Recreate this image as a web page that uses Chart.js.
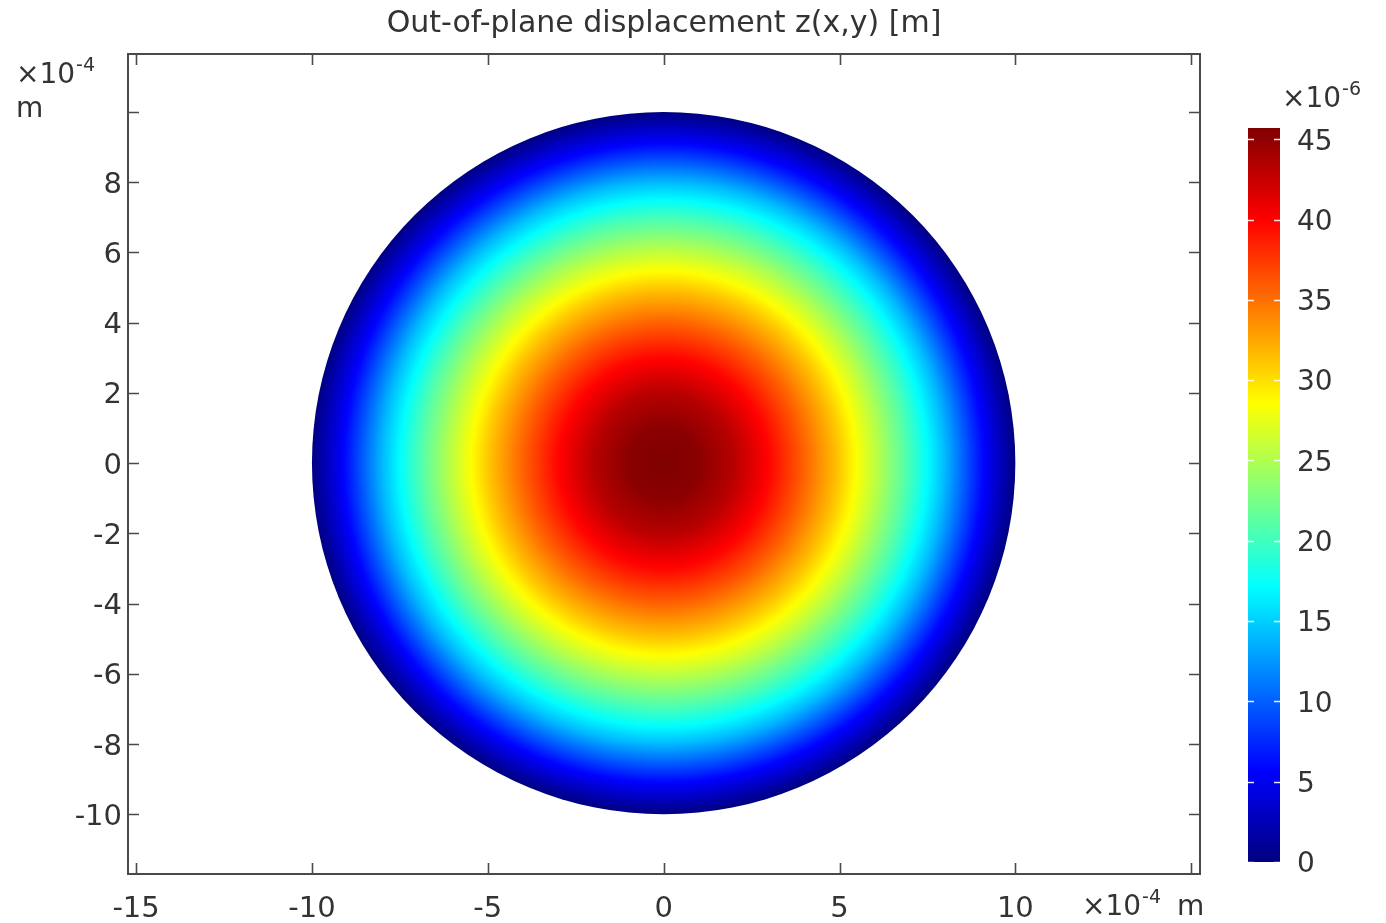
<!DOCTYPE html>
<html>
<head>
<meta charset="utf-8">
<script src="https://cdn.jsdelivr.net/npm/chart.js@4.4.1/dist/chart.umd.min.js"></script>
<style>
  html, body { margin: 0; padding: 0; background: #ffffff; }
  #wrap { position: relative; width: 1386px; height: 923px; overflow: hidden; }
  #main { position: absolute; left: 0; top: 0; }
  #cbar { position: absolute; left: 1210px; top: 0; }
</style>
</head>
<body>
<div id="wrap">
  <canvas id="main" width="1386" height="923"></canvas>
  <canvas id="cbar" width="176" height="923"></canvas>
</div>
<script>
// ---- data ----
const titleText = 'Out-of-plane displacement z(x,y) [m]';
// radial profile of the membrane: radius [x1e-4 m] -> displacement [x1e-6 m]
const radius = [0, 1, 2, 3, 4, 5, 6, 7, 8, 9, 10];
const displacement = [45.7, 45.2, 43.2, 39.8, 35.6, 31.0, 25.8, 20.2, 14.0, 6.5, 0];
const circleCenter = [0, 0];
// axis ticks and labels
const xTickValues = [-15, -10, -5, 0, 5, 10, 15];
const xTickLabels = ['-15', '-10', '-5', '0', '5', '10', ''];
const yTickValues = [-10, -8, -6, -4, -2, 0, 2, 4, 6, 8, 10];
const yTickLabels = ['-10', '-8', '-6', '-4', '-2', '0', '2', '4', '6', '8', ''];
const colorTickValues = [0, 5, 10, 15, 20, 25, 30, 35, 40, 45];
const colorTickLabels = ['0', '5', '10', '15', '20', '25', '30', '35', '40', '45'];
const axisUnitExp = '-4';
const colorUnitExp = '-6';

const FONT = "'DejaVu Sans', 'Liberation Sans', sans-serif";
const TEXT = '#333333';
const FRAME = '#4a4a4a';
const vmax = Math.max(...displacement);

function jet(t) {
  t = Math.max(0, Math.min(1, t));
  const c = v => Math.round(255 * Math.max(0, Math.min(1, v)));
  return 'rgb(' + c(1.5 - Math.abs(4 * t - 3)) + ',' + c(1.5 - Math.abs(4 * t - 2)) + ',' + c(1.5 - Math.abs(4 * t - 1)) + ')';
}

function drawUnit(ctx, x, y, exp, withM, mx) {
  ctx.save();
  ctx.fillStyle = TEXT;
  ctx.textBaseline = 'alphabetic';
  ctx.textAlign = 'left';
  ctx.font = '28px ' + FONT;
  ctx.fillText('×10', x, y);
  const w = ctx.measureText('×10').width;
  ctx.font = '19px ' + FONT;
  ctx.fillText(exp, x + w + 1, y - 12);
  if (withM) {
    ctx.font = '28px ' + FONT;
    ctx.fillText('m', mx, withM);
  }
  ctx.restore();
}

const membranePlugin = {
  id: 'membrane',
  beforeDatasetsDraw(chart) {
    const xs = chart.scales.x, ys = chart.scales.y, ctx = chart.ctx;
    const rmax = radius[radius.length - 1];
    const cx = xs.getPixelForValue(circleCenter[0]);
    const cy = ys.getPixelForValue(circleCenter[1]);
    const rx = xs.getPixelForValue(circleCenter[0] + rmax) - cx;
    const ry = cy - ys.getPixelForValue(circleCenter[1] + rmax);
    ctx.save();
    ctx.translate(cx, cy);
    ctx.scale(1, ry / rx);
    const g = ctx.createRadialGradient(0, 0, 0, 0, 0, rx);
    const sub = 12;
    for (let i = 0; i < radius.length - 1; i++) {
      for (let k = 0; k < sub; k++) {
        const f = k / sub;
        const r = radius[i] + (radius[i + 1] - radius[i]) * f;
        const v = displacement[i] + (displacement[i + 1] - displacement[i]) * f;
        g.addColorStop(r / rmax, jet(v / vmax));
      }
    }
    g.addColorStop(1, jet(displacement[displacement.length - 1] / vmax));
    ctx.fillStyle = g;
    ctx.beginPath();
    ctx.arc(0, 0, rx, 0, Math.PI * 2);
    ctx.fill();
    ctx.restore();
  },
  afterDraw(chart) {
    const ctx = chart.ctx, a = chart.chartArea;
    const xs = chart.scales.x, ys = chart.scales.y;
    ctx.save();
    ctx.strokeStyle = FRAME;
    ctx.lineWidth = 2;
    ctx.strokeRect(a.left, a.top, a.right - a.left, a.bottom - a.top);
    ctx.lineWidth = 1.6;
    const L = 11;
    ctx.beginPath();
    xTickValues.forEach(v => {
      const p = Math.round(xs.getPixelForValue(v)) + 0.5;
      ctx.moveTo(p, a.bottom); ctx.lineTo(p, a.bottom - L);
      ctx.moveTo(p, a.top); ctx.lineTo(p, a.top + L);
    });
    yTickValues.forEach(v => {
      const p = Math.round(ys.getPixelForValue(v)) + 0.5;
      ctx.moveTo(a.left, p); ctx.lineTo(a.left + L, p);
      ctx.moveTo(a.right, p); ctx.lineTo(a.right - L, p);
    });
    ctx.stroke();
    ctx.restore();
    // unit labels
    drawUnit(ctx, a.left - 112, a.top + 29, axisUnitExp, a.top + 63, a.left - 112);
    drawUnit(ctx, a.right - 118, a.bottom + 41, axisUnitExp, a.bottom + 41, a.right - 23);
  }
};

new Chart(document.getElementById('main'), {
  type: 'scatter',
  data: { datasets: [] },
  options: {
    responsive: false,
    animation: false,
    devicePixelRatio: 1,
    layout: { padding: { left: 0, right: 186, top: 0, bottom: 0 } },
    plugins: {
      legend: { display: false },
      tooltip: { enabled: false },
      title: {
        display: true,
        fullSize: false,
        text: titleText,
        color: TEXT,
        font: { family: FONT, size: 30, weight: 'normal' },
        padding: { top: 6, bottom: 12 }
      }
    },
    scales: {
      x: {
        type: 'linear',
        min: -15.23, max: 15.25,
        grid: { display: false, drawTicks: false },
        border: { display: false },
        afterBuildTicks: s => { s.ticks = xTickValues.map(v => ({ value: v })); },
        afterFit: s => { s.height = 49; },
        ticks: {
          autoSkip: false, maxRotation: 0, includeBounds: false,
          color: TEXT, font: { family: FONT, size: 29 }, padding: 18,
          callback: (v) => { const i = xTickValues.indexOf(v); return i >= 0 ? xTickLabels[i] : ''; }
        }
      },
      y: {
        type: 'linear',
        min: -11.7, max: 11.65,
        grid: { display: false, drawTicks: false },
        border: { display: false },
        afterBuildTicks: s => { s.ticks = yTickValues.map(v => ({ value: v })); },
        afterFit: s => { s.width = 128; },
        ticks: {
          autoSkip: false, includeBounds: false,
          color: TEXT, font: { family: FONT, size: 29 }, padding: 6, labelOffset: 3,
          callback: (v) => { const i = yTickValues.indexOf(v); return i >= 0 ? yTickLabels[i] : ''; }
        }
      }
    }
  },
  plugins: [membranePlugin]
});

const colorbarPlugin = {
  id: 'colorbarTicks',
  afterDatasetsDraw(chart) {
    const ctx = chart.ctx, a = chart.chartArea, ys = chart.scales.y;
    ctx.save();
    ctx.strokeStyle = 'rgba(255,255,255,0.9)';
    ctx.lineWidth = 1.5;
    ctx.beginPath();
    colorTickValues.forEach(v => {
      const p = Math.round(ys.getPixelForValue(v)) + 0.5;
      ctx.moveTo(a.left, p); ctx.lineTo(a.left + 6, p);
      ctx.moveTo(a.right, p); ctx.lineTo(a.right - 6, p);
    });
    ctx.stroke();
    ctx.restore();
    drawUnit(ctx, a.left + 34, a.top - 21, colorUnitExp, 0, 0);
  }
};

new Chart(document.getElementById('cbar'), {
  type: 'bar',
  data: {
    labels: ['z'],
    datasets: [{
      data: [[0, vmax]],
      borderWidth: 0,
      barPercentage: 1,
      categoryPercentage: 1,
      backgroundColor: (c) => {
        const chart = c.chart;
        if (!chart.chartArea) return 'blue';
        const ys = chart.scales.y;
        const g = chart.ctx.createLinearGradient(0, ys.getPixelForValue(0), 0, ys.getPixelForValue(vmax));
        [0, 0.125, 0.375, 0.625, 0.875, 1].forEach(t => g.addColorStop(t, jet(t)));
        return g;
      }
    }]
  },
  options: {
    responsive: false,
    animation: false,
    devicePixelRatio: 1,
    layout: { padding: { left: 38, right: 0, top: 128, bottom: 61 } },
    plugins: { legend: { display: false }, tooltip: { enabled: false }, title: { display: false } },
    scales: {
      x: { display: false },
      y: {
        position: 'right',
        min: 0, max: vmax,
        grid: { display: false, drawTicks: false },
        border: { display: false },
        afterBuildTicks: s => { s.ticks = colorTickValues.map(v => ({ value: v })); },
        afterFit: s => { s.width = 106; },
        ticks: {
          autoSkip: false, includeBounds: false,
          color: TEXT, font: { family: FONT, size: 28 }, padding: 17, labelOffset: 3,
          callback: (v) => { const i = colorTickValues.indexOf(v); return i >= 0 ? colorTickLabels[i] : ''; }
        }
      }
    }
  },
  plugins: [colorbarPlugin]
});
</script>
</body>
</html>
